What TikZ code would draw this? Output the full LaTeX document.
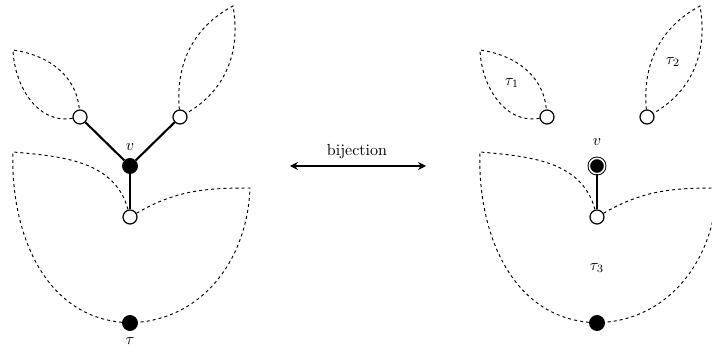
\documentclass[tikz,border=0pt]{standalone}
\usetikzlibrary{arrows.meta}
\begin{document}
\begin{tikzpicture}[x=0.625pt,y=-0.625pt,
  wnode/.style={circle,draw,fill=white,line width=0.75pt,minimum size=8.75pt,inner sep=0pt},
  bnode/.style={circle,draw,fill=black,line width=0.75pt,minimum size=9.2pt,inner sep=0pt},
  dnode/.style={circle,draw,fill=black,line width=0.6pt,double=white,double distance=1pt,minimum size=9.6pt,inner sep=0pt},
  edge/.style={line width=1.3pt},
  dashline/.style={line width=0.6pt,dash pattern=on 1.9pt off 1.9pt},
  lab/.style={inner sep=0pt}]
\useasboundingbox (0,0) rectangle (712,350);

% ---------- left figure ----------
\coordinate (c1) at (13,50);
\coordinate (c2) at (233,6);
\coordinate (c3) at (13,152);
\coordinate (c4) at (250,188);
\node[bnode] (r) at (130,323) {};
\node[wnode] (w) at (130,217) {};
\node[bnode] (v) at (130,166) {};
\node[wnode] (a) at (80,117) {};
\node[wnode] (b) at (180,117) {};
\node[lab] (lv) at (130,147) {$v$};
\node[lab] (lt) at (130,341) {$\tau$};

\draw[dashline] (a) to[out=190,in=-88] (c1) to[out=-8,in=95] (a);
\draw[dashline] (b) to[out=95,in=208] (c2) to[out=-80,in=30] (b);
\draw[dashline] (r) to[out=175,in=-92] (c3) to[out=-5,in=105] (w);
\draw[dashline] (w) to[out=30,in=180] (c4) to[out=-92,in=5] (r);

\draw[edge] (v) -- (a);
\draw[edge] (v) -- (b);
\draw[edge] (v) -- (w);

% ---------- arrow ----------
\coordinate (p) at (290,166);
\coordinate (q) at (426,166);
\draw[line width=0.8pt,{Stealth[length=5pt,width=5pt]}-{Stealth[length=5pt,width=5pt]}] (p) -- (q);
\node[lab] (bij) at (357,152) {bijection};

% ---------- right figure ----------
\coordinate (C1) at (480,50);
\coordinate (C2) at (700,6);
\coordinate (C3) at (480,152);
\coordinate (C4) at (717,188);
\node[bnode] (R) at (597,323) {};
\node[wnode] (W) at (597,217) {};
\node[dnode] (V) at (597,166) {};
\node[wnode] (A) at (547,117) {};
\node[wnode] (B) at (647,117) {};
\node[lab] (Lv) at (597,142) {$v$};
\node[lab] (L1) at (512,83) {$\tau_1$};
\node[lab] (L2) at (673,62) {$\tau_2$};
\node[lab] (L3) at (597,268) {$\tau_3$};

\draw[dashline] (A) to[out=190,in=-88] (C1) to[out=-8,in=95] (A);
\draw[dashline] (B) to[out=95,in=208] (C2) to[out=-80,in=30] (B);
\draw[dashline] (R) to[out=175,in=-92] (C3) to[out=-5,in=105] (W);
\draw[dashline] (W) to[out=30,in=180] (C4) to[out=-92,in=5] (R);

\draw[edge] (V) -- (W);
\end{tikzpicture}
\end{document}
